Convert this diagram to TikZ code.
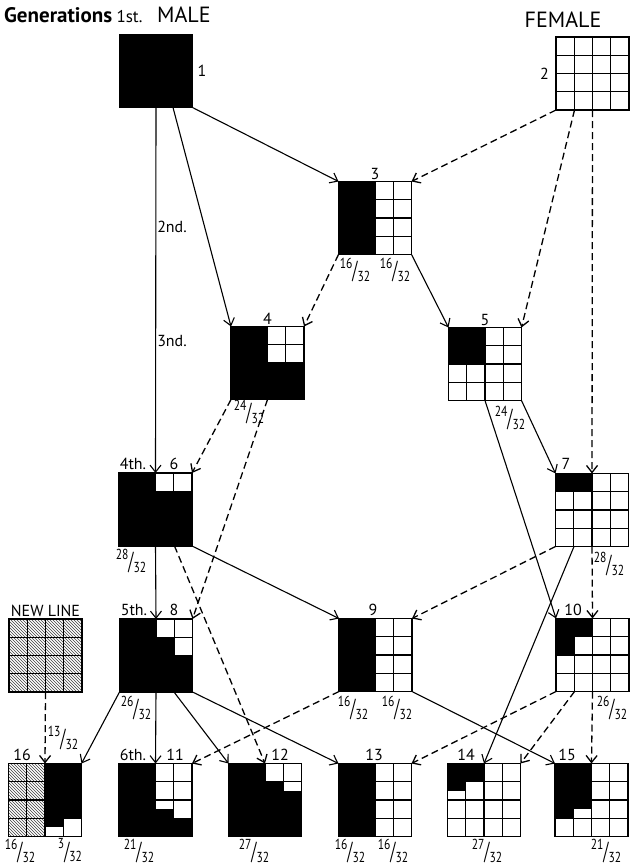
\documentclass[tikz,border=0pt]{standalone}
\usepackage{fontspec}
\setmainfont{PT Sans}
\usepackage{graphicx}
\usetikzlibrary{arrows.meta,positioning,calc,patterns}
\def\cw{18.25}
\tikzset{
  sq/.style={minimum size=73pt, inner sep=0pt, outer sep=0pt},
  gridline/.style={draw=black, line width=1.2pt},
  lab/.style={font=\fontsize{16}{18}\selectfont, inner sep=1pt},
  head/.style={font=\fontsize{22}{24}\selectfont, inner sep=1pt},
  fr/.style={font=\fontsize{14.5}{15}\selectfont, inner sep=0pt},
  arr/.style={-{Straight Barb[length=7pt,width=11pt]}, line width=1.1pt},
  darr/.style={arr, dash pattern=on 7pt off 4pt, line width=1.3pt},
  hatch/.style={pattern=north west lines, pattern color=black!75},
}
% fraction as printed: raised numerator, long slash, lowered denominator
\newcommand\frc[2]{\raisebox{0.8ex}{\scalebox{0.8}[1]{#1}}\raisebox{-0.7ex}{\scalebox{1}[1.7]{/}}\raisebox{-1.0ex}{\scalebox{0.8}[1]{#2}}}
% black (or other) cells of a 4x4 square, given as row/col
\newcommand\cells[3][black]{\foreach \row/\col in {#3}
  {\fill[#1] ($(#2.north west)+(\col*\cw,\row*\cw)$) rectangle +(\cw,\cw);}}
% half cell: node, row, col, shift (0 = top half, 0.5 = bottom half)
\newcommand\halfc[4]{\fill ($(#1.north west)+(#3*\cw,#2*\cw+#4*\cw)$) rectangle +(\cw,0.5*\cw);}
\newcommand\grid[1]{\draw[gridline] (#1.north west) rectangle (#1.south east);
  \foreach \k in {1,2,3} {
    \draw[gridline] ($(#1.north west)+(\k*\cw,0)$) -- +(0,4*\cw);
    \draw[gridline] ($(#1.north west)+(0,\k*\cw)$) -- +(4*\cw,0);}}
\newcommand\solid[1]{\fill (#1.north west) rectangle (#1.south east);}

\begin{document}
\begin{tikzpicture}[x=1pt,y=-1pt]
  \useasboundingbox[fill=white] (0,0) rectangle (630,867);

  % squares
  \node[sq] (s1) at (156,71) {};
  \node[sq] (s2) at (592.5,73.5) {};
  \node[sq] (s3) at (375,218) {};
  \node[sq] (s4) at (267.5,363) {};
  \node[sq] (s5) at (485,364) {};
  \node[sq] (s6) at (155.5,509.5) {};
  \node[sq] (s7) at (592,510) {};
  \node[sq] (snl) at (45.5,655.5) {};
  \node[sq] (s8) at (156,655.5) {};
  \node[sq] (s9) at (375.5,655) {};
  \node[sq] (s10) at (592.5,655) {};
  \node[sq] (s16) at (45,800) {};
  \node[sq] (s11) at (155.5,800) {};
  \node[sq] (s12) at (265,800) {};
  \node[sq] (s13) at (375,800) {};
  \node[sq] (s14) at (484,800) {};
  \node[sq] (s15) at (591.5,800) {};

  % fills
  \solid{s1}
  \cells{s3}{0/0,0/1,1/0,1/1,2/0,2/1,3/0,3/1}
  \solid{s4} \cells[white]{s4}{0/2,0/3,1/2,1/3}
  \cells{s5}{0/0,0/1,1/0,1/1}
  \solid{s6} \cells[white]{s6}{0/2,0/3}
  \cells{s7}{0/0,0/1}
  \fill[hatch] (snl.north west) rectangle (snl.south east);
  \solid{s8} \cells[white]{s8}{0/2,0/3,1/3}
  \cells{s9}{0/0,0/1,1/0,1/1,2/0,2/1,3/0,3/1}
  \cells{s10}{0/0,0/1,1/0}
  \fill[hatch] (s16.north west) rectangle (s16.south);
  \cells{s16}{0/2,0/3,1/2,1/3,2/2,2/3} \halfc{s16}{3}{2}{0}
  \solid{s11} \cells[white]{s11}{0/2,0/3,1/2,1/3,2/2,2/3} \halfc{s11}{2}{2}{0.5}
  \solid{s12} \cells[white]{s12}{0/2,0/3,1/3} \halfc{s12}{1}{3}{0.5}
  \cells{s13}{0/0,0/1,1/0,1/1,2/0,2/1,3/0,3/1}
  \cells{s14}{0/0,0/1} \halfc{s14}{1}{0}{0}
  \cells{s15}{0/0,0/1,1/0,1/1,2/0} \halfc{s15}{2}{1}{0}

  \foreach \n in {s1,s2,s3,s4,s5,s6,s7,snl,s8,s9,s10,s16,s11,s12,s13,s14,s15}
    {\grid{\n}}

  % headings
  \node[head, font=\fontsize{21}{23}\selectfont\bfseries, anchor=base west] (gen) at (3,23) {Generations};
  \node[lab, font=\fontsize{17}{19}\selectfont, anchor=base west] (g1) at ([xshift=2pt]gen.base east) {1st.};
  \node[head, anchor=base west] (male) at (156,23) {MALE};
  \node[head, anchor=base] (female) at (563,28) {FEMALE};
  \node[lab] (g2) at (172,227) {2nd.};
  \node[lab] (g3) at (172,341) {3nd.};

  % numbers
  \node[lab, right=4pt of s1] (l1) {1};
  \node[lab, left=6pt of s2] (l2) {2};
  \node[lab, above=1pt of s3] (l3) {3};
  \node[lab, above=1pt of s4] (l4) {4};
  \node[lab, above=1pt of s5] (l5) {5};
  \node[lab, anchor=south] (g4) at (133,471) {4th.};
  \node[lab, anchor=south] (l6) at (174,471) {6};
  \node[lab, anchor=south] (l7) at (566,471) {7};
  \node[lab, above=1pt of snl] (lnl) {NEW LINE};
  \node[lab, anchor=south] (g5) at (134,617) {5th.};
  \node[lab, anchor=south] (l8) at (174,617) {8};
  \node[lab, anchor=south] (l9) at (373,617) {9};
  \node[lab, anchor=south] (l10) at (573,617) {10};
  \node[lab, anchor=south] (l16) at (22,762) {16};
  \node[lab, anchor=south] (g6) at (133,762) {6th.};
  \node[lab, anchor=south] (l11) at (175,762) {11};
  \node[lab, anchor=south] (l12) at (280,762) {12};
  \node[lab, anchor=south] (l13) at (374,762) {13};
  \node[lab, anchor=south] (l14) at (466,762) {14};
  \node[lab, anchor=south] (l15) at (567,762) {15};

  % fractions
  \node[fr] (f3a) at (355,270) {\frc{16}{32}};
  \node[fr] (f3b) at (395,270) {\frc{16}{32}};
  \node[fr] (f4) at (249,412) {\frc{24}{32}};
  \node[fr] (f5) at (510,418) {\frc{24}{32}};
  \node[fr] (f6) at (131,561) {\frc{28}{32}};
  \node[fr] (f7) at (609,564) {\frc{28}{32}};
  \node[fr] (f8) at (136,708) {\frc{26}{32}};
  \node[fr] (f9a) at (353,708) {\frc{16}{32}};
  \node[fr] (f9b) at (397,708) {\frc{16}{32}};
  \node[fr] (f10) at (612,708) {\frc{26}{32}};
  \node[fr] (f16t) at (63,738) {\frc{13}{32}};
  \node[fr] (f16a) at (20,851) {\frc{16}{32}};
  \node[fr] (f16b) at (70,851) {\frc{3}{32}};
  \node[fr] (f11) at (139,851) {\frc{21}{32}};
  \node[fr] (f12) at (254,851) {\frc{27}{32}};
  \node[fr] (f13a) at (350,851) {\frc{16}{32}};
  \node[fr] (f13b) at (393,851) {\frc{16}{32}};
  \node[fr] (f14) at (487,851) {\frc{27}{32}};
  \node[fr] (f15) at (606,851) {\frc{21}{32}};

  % descent lines
  \draw[arr] (s1.south) -- (s6.north);
  \draw[arr] ([xshift=17pt]s1.south) -- (s4.north west);
  \draw[arr] (s1.south east) -- (s3.north west);
  \draw[darr] (s2.south west) -- (s3.north east);
  \draw[darr] ([xshift=-18pt]s2.south) -- (s5.north east);
  \draw[darr] (s2.south) -- (s7.north);
  \draw[darr] (s3.south west) -- (s4.north east);
  \draw[arr] (s3.south east) -- (s5.north west);
  \draw[darr] (s4.south west) -- (s6.north east);
  \draw[darr] (s4.south) -- (s8.north east);
  \draw[arr] (s5.south east) -- (s7.north west);
  \draw[arr] (s5.south) -- (s10.north west);
  \draw[arr] (s6.south) -- (s8.north);
  \draw[arr] (s6.south east) -- (s9.north west);
  \draw[darr] ([xshift=19pt]s6.south) -- (s12.north);
  \draw[darr] (s7.south west) -- (s9.north east);
  \draw[arr] ([xshift=-18pt]s7.south) -- (s14.north);
  \draw[darr] (s7.south) -- (s10.north);
  \draw[darr] (snl.south) -- (s16.north);
  \draw[arr] (s8.south west) -- (s16.north east);
  \draw[arr] (s8.south) -- (s11.north);
  \draw[arr] ([xshift=18pt]s8.south) -- (s12.north west);
  \draw[arr] (s8.south east) -- (s13.north west);
  \draw[darr] (s9.south west) -- (s11.north east);
  \draw[arr] (s9.south east) -- (s15.north west);
  \draw[darr] (s10.south west) -- (s13.north east);
  \draw[darr] ([xshift=-18pt]s10.south) -- (s14.north east);
  \draw[darr] (s10.south) -- (s15.north);
\end{tikzpicture}
\end{document}
